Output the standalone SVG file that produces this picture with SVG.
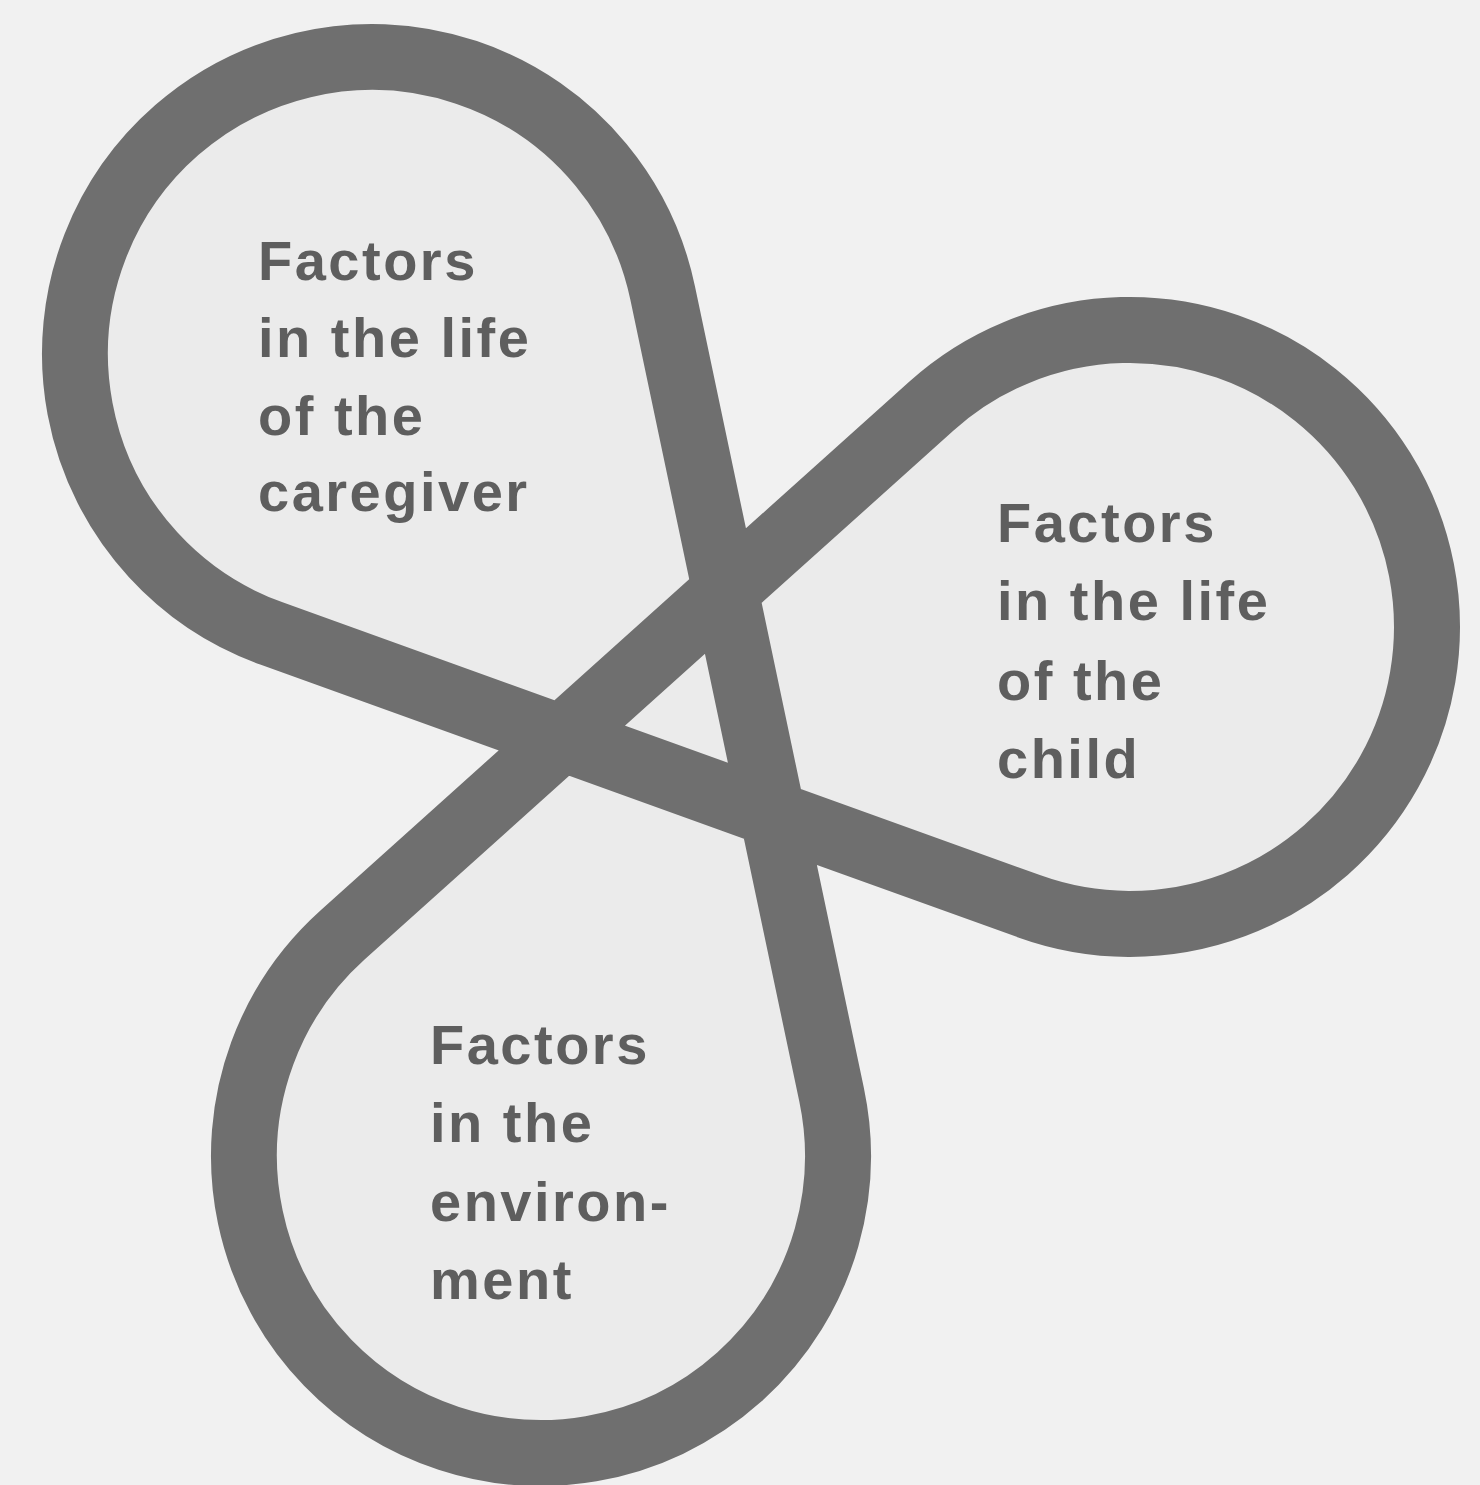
<svg xmlns="http://www.w3.org/2000/svg" width="1480" height="1485" viewBox="0 0 1480 1485">
  <style>
    .band { fill: #ebebeb; stroke: #6f6f6f; stroke-width: 66; stroke-linejoin: round; }
    .label { font-family: "Liberation Sans", Arial, Helvetica, sans-serif; font-weight: bold; font-size: 56px; letter-spacing: 2.5px; fill: #5e5e5e; }
  </style>
  <rect x="0" y="0" width="1480" height="1485" fill="#f1f1f1"/>

  <!-- Trefoil band: three circular lobes (r=297) joined by tangent legs -->
  <g id="connectors">
    <path class="band" d="M 662.6 292.8 L 831.6 1094.8 A 297 297 0 1 1 342.5 935.0 L 931.5 406.0 A 297 297 0 1 1 1029.4 906.4 L 271.4 633.4 A 297 297 0 1 1 662.6 292.8 Z"/>
  </g>

  <g id="caregiver">
    <text class="label" x="258" y="280">Factors</text>
    <text class="label" x="258" y="357">in the life</text>
    <text class="label" x="258" y="435">of the</text>
    <text class="label" x="258" y="511">caregiver</text>
  </g>

  <g id="child">
    <text class="label" x="997" y="542">Factors</text>
    <text class="label" x="997" y="620">in the life</text>
    <text class="label" x="997" y="700">of the</text>
    <text class="label" x="997" y="778">child</text>
  </g>

  <g id="environment">
    <text class="label" x="430" y="1064">Factors</text>
    <text class="label" x="430" y="1142">in the</text>
    <text class="label" x="430" y="1221">environ-</text>
    <text class="label" x="430" y="1299">ment</text>
  </g>
</svg>
